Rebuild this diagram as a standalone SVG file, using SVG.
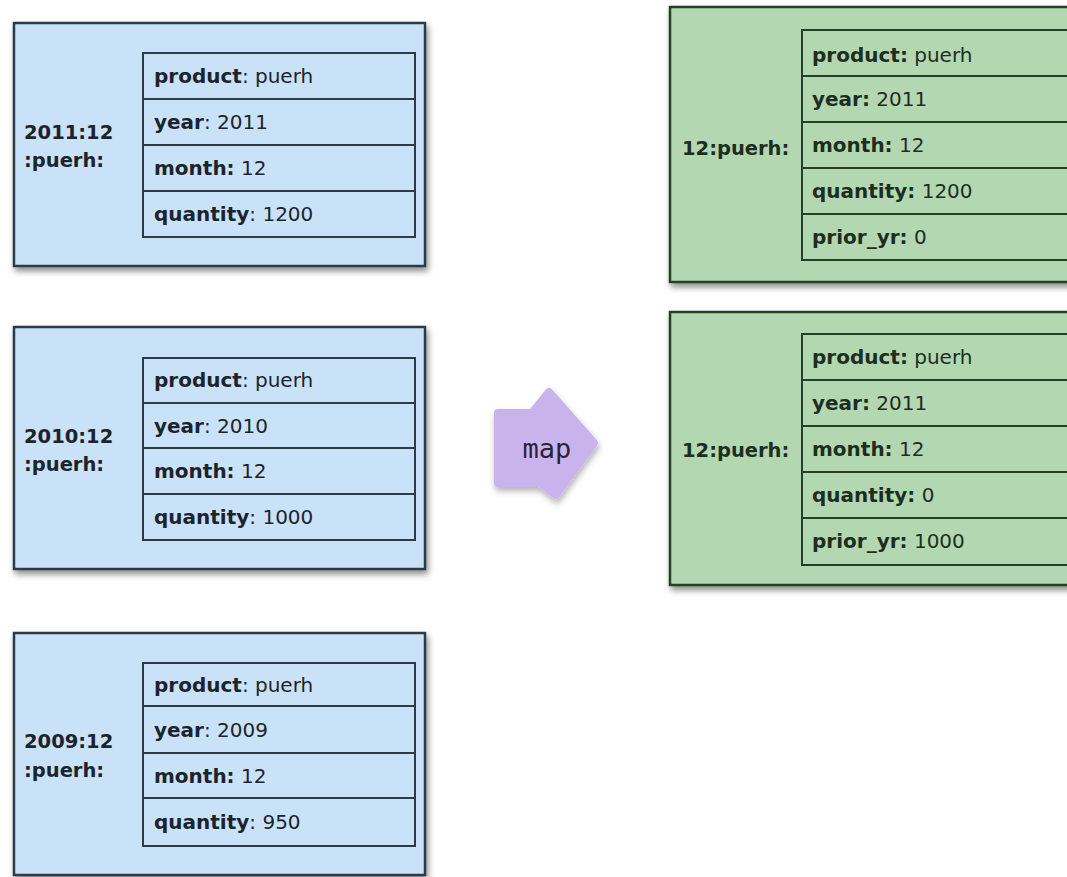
<svg xmlns="http://www.w3.org/2000/svg" width="1067" height="877" viewBox="0 0 1067 877">
<defs>
<filter id="sh" x="-5%" y="-5%" width="115%" height="120%">
<feDropShadow dx="2" dy="4" stdDeviation="3" flood-color="#000" flood-opacity="0.45"/>
</filter>
<filter id="ash" x="-20%" y="-20%" width="150%" height="150%">
<feDropShadow dx="1" dy="4" stdDeviation="3" flood-color="#000" flood-opacity="0.3"/>
</filter>
<style>
.bo{fill:#c9e2f7;stroke:#2c3a45;stroke-width:2.5}
.bi{fill:none;stroke:#2c3a45;stroke-width:2}
.go{fill:#b3d8b1;stroke:#263f27;stroke-width:2.5}
.gi{fill:none;stroke:#263f27;stroke-width:2}
text{font-family:"DejaVu Sans","Liberation Sans",sans-serif;font-size:20px}
.bt{fill:#1b242c}
.gt{fill:#1c2e1d}
.lb{font-weight:bold;font-size:19.5px}
.k{font-weight:bold}
.map{font-family:"DejaVu Sans Mono","Liberation Mono",monospace;font-size:27px;fill:#2a2238}
</style>
</defs>
<rect width="1067" height="877" fill="#ffffff"/>

<g id="src2011">
<rect class="bo" x="14" y="23" width="411" height="243" filter="url(#sh)"/>
<rect class="bi" x="143" y="53" width="272" height="184"/>
<line class="bi" x1="143" y1="99" x2="415" y2="99"/>
<line class="bi" x1="143" y1="145" x2="415" y2="145"/>
<line class="bi" x1="143" y1="191" x2="415" y2="191"/>
<text class="bt lb" x="24" y="139">2011:12</text>
<text class="bt lb" x="24" y="167">:puerh:</text>
<text class="bt" x="154" y="83"><tspan class="k">product</tspan>: puerh</text>
<text class="bt" x="154" y="129"><tspan class="k">year</tspan>: 2011</text>
<text class="bt" x="154" y="175"><tspan class="k">month:</tspan> 12</text>
<text class="bt" x="154" y="221"><tspan class="k">quantity</tspan>: 1200</text>
</g>

<g id="src2010">
<rect class="bo" x="14" y="327" width="411" height="242" filter="url(#sh)"/>
<rect class="bi" x="143" y="358" width="272" height="182"/>
<line class="bi" x1="143" y1="403" x2="415" y2="403"/>
<line class="bi" x1="143" y1="448" x2="415" y2="448"/>
<line class="bi" x1="143" y1="494" x2="415" y2="494"/>
<text class="bt lb" x="24" y="443">2010:12</text>
<text class="bt lb" x="24" y="471">:puerh:</text>
<text class="bt" x="154" y="387"><tspan class="k">product</tspan>: puerh</text>
<text class="bt" x="154" y="433"><tspan class="k">year</tspan>: 2010</text>
<text class="bt" x="154" y="478"><tspan class="k">month:</tspan> 12</text>
<text class="bt" x="154" y="524"><tspan class="k">quantity</tspan>: 1000</text>
</g>

<g id="src2009">
<rect class="bo" x="14" y="633" width="411" height="242" filter="url(#sh)"/>
<rect class="bi" x="143" y="663" width="272" height="183"/>
<line class="bi" x1="143" y1="706" x2="415" y2="706"/>
<line class="bi" x1="143" y1="753" x2="415" y2="753"/>
<line class="bi" x1="143" y1="798" x2="415" y2="798"/>
<text class="bt lb" x="24" y="748">2009:12</text>
<text class="bt lb" x="24" y="777">:puerh:</text>
<text class="bt" x="154" y="692"><tspan class="k">product</tspan>: puerh</text>
<text class="bt" x="154" y="737"><tspan class="k">year</tspan>: 2009</text>
<text class="bt" x="154" y="783"><tspan class="k">month:</tspan> 12</text>
<text class="bt" x="154" y="829"><tspan class="k">quantity</tspan>: 950</text>
</g>

<g id="map">
<path d="M498,413 L532,413 L549,392 L594,443 L556,495 L540,483 L498,483 Z" fill="#c9b3ec" stroke="#c9b3ec" stroke-width="8" stroke-linejoin="round" filter="url(#ash)"/>
<text class="map" x="547" y="458" text-anchor="middle">map</text>
</g>

<g id="out1">
<rect class="go" x="670" y="7" width="420" height="275" filter="url(#sh)"/>
<rect class="gi" x="802" y="30" width="290" height="230"/>
<line class="gi" x1="802" y1="76" x2="1067" y2="76"/>
<line class="gi" x1="802" y1="122" x2="1067" y2="122"/>
<line class="gi" x1="802" y1="168" x2="1067" y2="168"/>
<line class="gi" x1="802" y1="214" x2="1067" y2="214"/>
<text class="gt lb" x="682" y="155">12:puerh:</text>
<text class="gt" x="812" y="62"><tspan class="k">product:</tspan> puerh</text>
<text class="gt" x="812" y="106"><tspan class="k">year:</tspan> 2011</text>
<text class="gt" x="812" y="152"><tspan class="k">month:</tspan> 12</text>
<text class="gt" x="812" y="198"><tspan class="k">quantity:</tspan> 1200</text>
<text class="gt" x="812" y="244"><tspan class="k">prior_yr:</tspan> 0</text>
</g>

<g id="out2">
<rect class="go" x="670" y="312" width="420" height="273" filter="url(#sh)"/>
<rect class="gi" x="802" y="334" width="290" height="231"/>
<line class="gi" x1="802" y1="380" x2="1067" y2="380"/>
<line class="gi" x1="802" y1="426" x2="1067" y2="426"/>
<line class="gi" x1="802" y1="472" x2="1067" y2="472"/>
<line class="gi" x1="802" y1="518" x2="1067" y2="518"/>
<text class="gt lb" x="682" y="457">12:puerh:</text>
<text class="gt" x="812" y="364"><tspan class="k">product:</tspan> puerh</text>
<text class="gt" x="812" y="410"><tspan class="k">year:</tspan> 2011</text>
<text class="gt" x="812" y="456"><tspan class="k">month:</tspan> 12</text>
<text class="gt" x="812" y="502"><tspan class="k">quantity:</tspan> 0</text>
<text class="gt" x="812" y="548"><tspan class="k">prior_yr:</tspan> 1000</text>
</g>

<g id="connectors"></g>
</svg>
